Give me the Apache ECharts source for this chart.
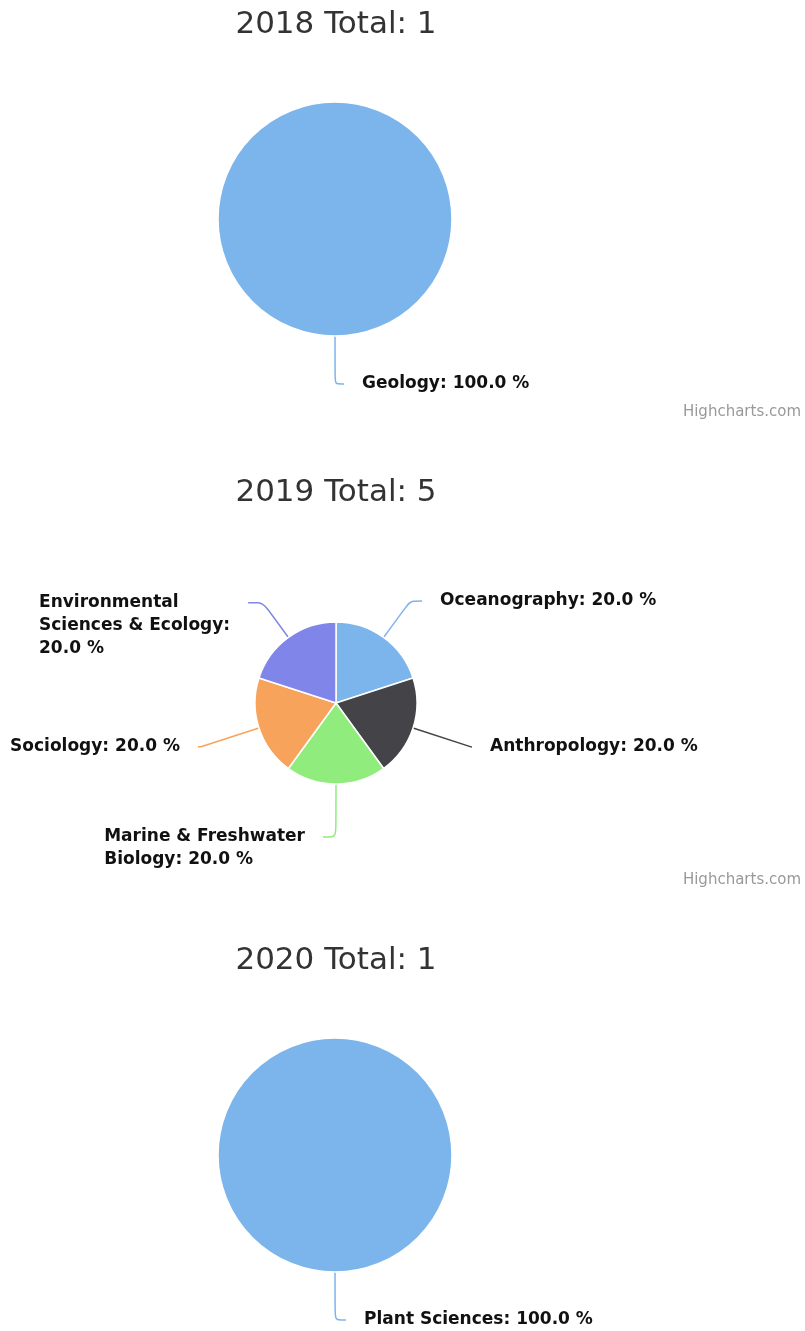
<!DOCTYPE html>
<html>
<head>
<meta charset="utf-8">
<title>Subject areas by year</title>
<script src="https://cdn.jsdelivr.net/npm/echarts@6/dist/echarts.min.js"></script>
<style>
  html, body { margin: 0; padding: 0; background: #ffffff; }
  #chart { width: 805px; height: 1331px; }
</style>
</head>
<body>
<div id="chart"></div>
<script>
// ---- data ----
const years = ['2018', '2019', '2020'];

const subjects2018 = ['Geology'];
const counts2018 = [1];

const subjects2019 = [
  'Oceanography',
  'Anthropology',
  'Marine & Freshwater Biology',
  'Sociology',
  'Environmental Sciences & Ecology'
];
const counts2019 = [1, 1, 1, 1, 1];

const subjects2020 = ['Plant Sciences'];
const counts2020 = [1];

const creditText = 'Highcharts.com';

// ---- styling ----
const palette = ['#7cb5ec', '#434348', '#90ed7d', '#f7a35c', '#8085e9'];
const FONT = 'DejaVu Sans';
const LABEL_SIZE = 17;
const LABEL_LINE_H = 23;
const LABEL_FONT = `bold ${LABEL_SIZE}px "${FONT}"`;
const WRAP_WIDTH = 210;

// connector segments of the 2019 labels (radial lead, horizontal tail)
const lead2019 = [45, 61, 53, 61, 43];
const tail2019 = [12, 1, 13, 3, 15];

const measureCtx = document.createElement('canvas').getContext('2d');
function wrapWords(text, maxWidth) {
  measureCtx.font = LABEL_FONT;
  const words = text.split(' ');
  const lines = [];
  let line = '';
  for (const w of words) {
    const test = line ? line + ' ' + w : w;
    if (line && measureCtx.measureText(test).width > maxWidth) {
      lines.push(line);
      line = w;
    } else {
      line = test;
    }
  }
  if (line) lines.push(line);
  return lines;
}

const sum = arr => arr.reduce((a, b) => a + b, 0);

// Builds pie items; labels on the left half wrap, and multi-line labels
// hang from their first line so the connector meets that line.
function buildData(names, values, wrapLeft, lead, tail) {
  const total = sum(values);
  let acc = 0;
  return names.map((name, i) => {
    const mid = (acc + values[i] / 2) / total;
    acc += values[i];
    const text = `${name}: ${(values[i] / total * 100).toFixed(1)} %`;
    const lines = (wrapLeft && mid >= 0.5) ? wrapWords(text, WRAP_WIDTH) : [text];
    const item = {
      name,
      value: values[i],
      itemStyle: { color: palette[i % palette.length] },
      label: {
        formatter: lines.map(l => `{t|${l}}`).join('\n'),
        padding: [(lines.length - 1) * LABEL_LINE_H, 0, 0, 0]
      }
    };
    if (lead) item.labelLine = { length: lead[i], length2: tail[i] };
    return item;
  });
}

const labelStyle = {
  show: true,
  position: 'outside',
  distanceToLabelLine: 18,
  fontFamily: FONT,
  fontSize: LABEL_SIZE,
  fontWeight: 'bold',
  color: '#111111',
  lineHeight: LABEL_LINE_H,
  rich: {
    t: {
      fontFamily: FONT,
      fontSize: LABEL_SIZE,
      fontWeight: 'bold',
      color: '#111111',
      lineHeight: LABEL_LINE_H,
      align: 'left'
    }
  }
};

function pieSeries(name, data, center, radius, startAngle, lineLen) {
  return {
    type: 'pie',
    name,
    center,
    radius,
    startAngle,
    clockwise: true,
    avoidLabelOverlap: false,
    silent: true,
    itemStyle: { borderColor: '#ffffff', borderWidth: 1.5 },
    label: labelStyle,
    labelLine: Object.assign({
      show: true,
      smooth: 0.25,
      lineStyle: { width: 1.5 }
    }, lineLen || {}),
    data
  };
}

const totals = [sum(counts2018), sum(counts2019), sum(counts2020)];
const titleTops = [10, 478, 946];
const creditTops = [405, 873];

const option = {
  animation: false,
  backgroundColor: '#ffffff',
  title: [
    ...years.map((y, i) => ({
      text: `${y} Total: ${totals[i]}`,
      left: 336,
      top: titleTops[i],
      textAlign: 'center',
      padding: 0,
      textStyle: {
        fontFamily: FONT,
        fontSize: 31,
        fontWeight: 'normal',
        color: '#333333',
        lineHeight: 30
      }
    })),
    ...creditTops.map(top => ({
      text: creditText,
      right: 4,
      top,
      padding: 0,
      textStyle: {
        fontFamily: FONT,
        fontSize: 15,
        fontWeight: 'normal',
        color: '#999999',
        lineHeight: 15
      }
    }))
  ],
  series: [
    // single slice: start nudged so its label sits to the right of the connector
    pieSeries(years[0], buildData(subjects2018, counts2018, false),
      [335, 219], 117, 90.01, { length: 48, length2: 9 }),
    // five slices: start nudged so the bottom label falls on the left
    pieSeries(years[1], buildData(subjects2019, counts2019, true, lead2019, tail2019),
      [336, 703], 81, 89.99),
    pieSeries(years[2], buildData(subjects2020, counts2020, false),
      [335, 1155], 117, 90.01, { length: 48, length2: 11 })
  ]
};

const chart = echarts.init(document.getElementById('chart'), null, { renderer: 'canvas' });
chart.setOption(option);
</script>
</body>
</html>
